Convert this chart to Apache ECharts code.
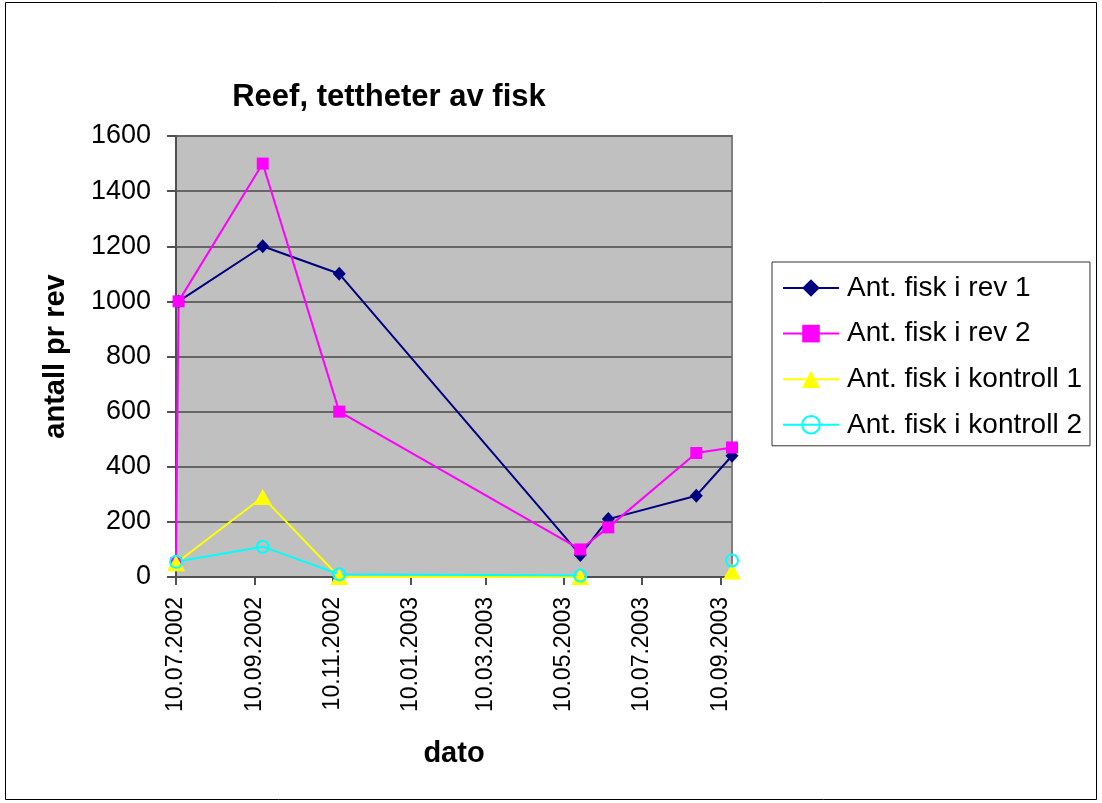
<!DOCTYPE html>
<html>
<head>
<meta charset="utf-8">
<script src="https://cdn.jsdelivr.net/npm/echarts@6/dist/echarts.min.js"></script>
<style>
html,body{margin:0;padding:0;background:#fff;}
#chart{width:1102px;height:803px;}
</style>
</head>
<body>
<div id="chart"></div>
<script>
// ---- data ----
const titleText = 'Reef, tettheter av fisk';
const xName = 'dato';
const yName = 'antall pr rev';
const xTickLabels = ['10.07.2002','10.09.2002','10.11.2002','10.01.2003','10.03.2003','10.05.2003','10.07.2003','10.09.2003'];
const xMinDate = '10.07.2002';
const xMaxDate = '19.09.2003';
const yMin = 0, yMax = 1600, yStep = 200;

const seriesNames = ['Ant. fisk i rev 1','Ant. fisk i rev 2','Ant. fisk i kontroll 1','Ant. fisk i kontroll 2'];

const datesRev = ['10.07.2002','12.07.2002','16.09.2002','15.11.2002','23.05.2003','14.06.2003','22.08.2003','19.09.2003'];
const rev1 = [null, 1000, 1200, 1100, 80, 210, 295, 440];
const rev2 = [50, 1000, 1500, 600, 100, 180, 450, 470];

const datesKontroll = ['10.07.2002','16.09.2002','15.11.2002','23.05.2003','14.06.2003','22.08.2003','19.09.2003'];
const kontroll1 = [50, 290, 0, 0, null, null, 20];
const kontroll2 = [55, 110, 10, 5, null, null, 60];

// ---- helpers ----
function parseDate(s){ const p = s.split('.').map(Number); return Date.UTC(p[2], p[1]-1, p[0]); }
function pad(n){ return (n<10?'0':'')+n; }
function fmtDate(ts){ const d = new Date(ts); return pad(d.getUTCDate())+'.'+pad(d.getUTCMonth()+1)+'.'+d.getUTCFullYear(); }
function pairs(dates, vals){ return dates.map((d,i)=>[parseDate(d), vals[i] === null ? '-' : vals[i]]); }

const FONT = 'Liberation Sans, Arial, sans-serif';
const tickValues = xTickLabels.map(parseDate);

const chart = echarts.init(document.getElementById('chart'), null, {renderer:'canvas'});
chart.setOption({
  animation: false,
  backgroundColor: '#ffffff',
  title: {
    text: titleText,
    left: 389,
    top: 82,
    textAlign: 'center',
    padding: 0,
    textStyle: {fontFamily: FONT, fontSize: 31, fontWeight: 'bold', color: '#000'}
  },
  graphic: [{
    type: 'rect', silent: true, z: -1,
    shape: {x: 5.5, y: 2.5, width: 1091, height: 797},
    style: {fill: 'none', stroke: '#000', lineWidth: 1}
  }],
  legend: {
    orient: 'vertical',
    left: 772,
    top: 262,
    padding: [11, 8, 6, 10],
    itemGap: 15.6,
    itemWidth: 56,
    itemHeight: 22,
    borderColor: '#333',
    borderWidth: 1,
    backgroundColor: '#fff',
    textStyle: {fontFamily: FONT, fontSize: 28, color: '#000', lineHeight: 30, padding: [0,0,0,3]},
    data: seriesNames
  },
  grid: {
    left: 176, top: 136, right: 370, bottom: 226,
    show: true, backgroundColor: '#C0C0C0', borderColor: '#808080', borderWidth: 2,
    containLabel: false, outerBoundsMode: 'none'
  },
  xAxis: {
    type: 'value',
    min: parseDate(xMinDate),
    max: parseDate(xMaxDate),
    name: xName,
    nameLocation: 'middle',
    nameGap: 162,
    nameTextStyle: {fontFamily: FONT, fontSize: 29, fontWeight: 'bold', color: '#000'},
    axisLine: {show: true, lineStyle: {color: '#505050', width: 2}},
    axisTick: {show: true, length: 8, lineStyle: {color: '#505050', width: 2}, customValues: tickValues},
    axisLabel: {
      customValues: tickValues,
      rotate: 90,
      margin: 20,
      fontFamily: FONT, fontSize: 23, color: '#000',
      formatter: v => fmtDate(v)
    },
    splitLine: {show: false}
  },
  yAxis: {
    type: 'value',
    min: yMin, max: yMax, interval: yStep,
    name: yName,
    nameLocation: 'middle',
    nameGap: 106,
    nameTextStyle: {fontFamily: FONT, fontSize: 29, fontWeight: 'bold', color: '#000'},
    axisLine: {show: true, lineStyle: {color: '#505050', width: 2}},
    axisTick: {show: true, length: 9, lineStyle: {color: '#505050', width: 2}},
    axisLabel: {margin: 25, fontFamily: FONT, fontSize: 27, color: '#000', formatter: v => String(v)},
    splitLine: {show: true, lineStyle: {color: '#666666', width: 2}}
  },
  series: [
    {
      name: seriesNames[0], type: 'line', data: pairs(datesRev, rev1),
      symbol: 'diamond', symbolSize: [13, 14],
      itemStyle: {color: '#000080', borderWidth: 0},
      lineStyle: {color: '#000080', width: 2}
    },
    {
      name: seriesNames[1], type: 'line', data: pairs(datesRev, rev2),
      symbol: 'rect', symbolSize: 12,
      itemStyle: {color: '#FF00FF', borderWidth: 0},
      lineStyle: {color: '#FF00FF', width: 2}
    },
    {
      name: seriesNames[2], type: 'line', data: pairs(datesKontroll, kontroll1),
      symbol: 'triangle', symbolSize: [18, 16],
      itemStyle: {color: '#FFFF00', borderWidth: 0},
      lineStyle: {color: '#FFFF00', width: 2}
    },
    {
      name: seriesNames[3], type: 'line', data: pairs(datesKontroll, kontroll2),
      symbol: 'circle', symbolSize: 12,
      itemStyle: {color: 'rgba(0,0,0,0)', borderColor: '#00FFFF', borderWidth: 2},
      lineStyle: {color: '#00FFFF', width: 2}
    }
  ]
});
</script>
</body>
</html>
